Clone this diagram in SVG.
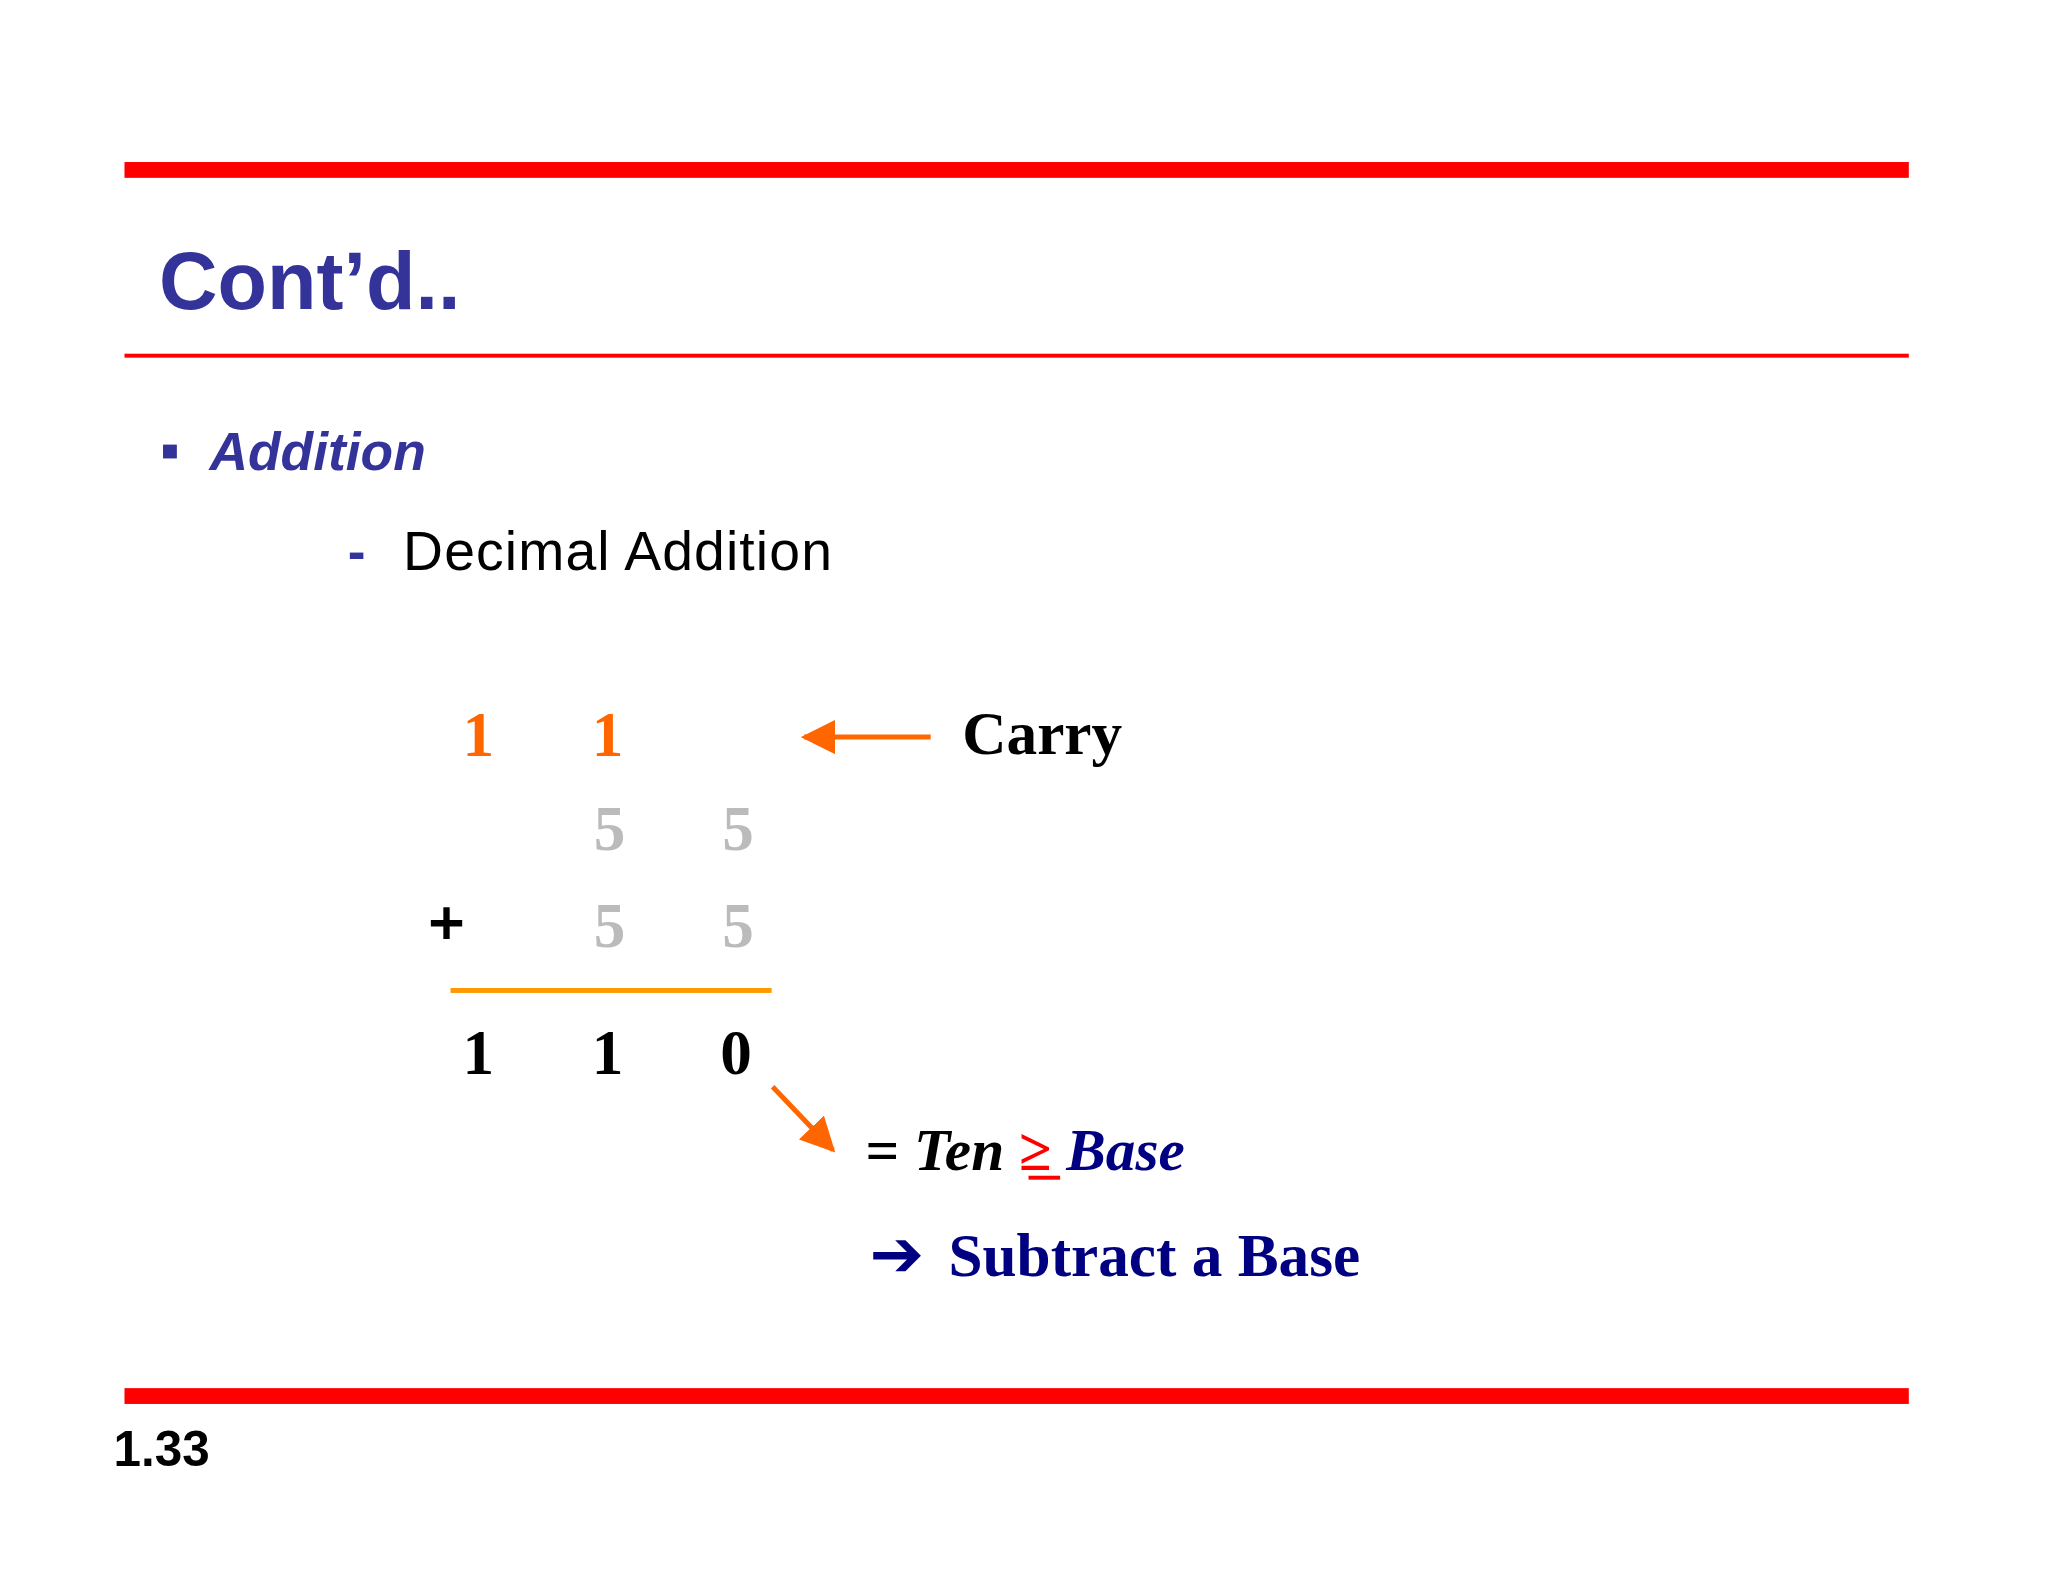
<svg xmlns="http://www.w3.org/2000/svg" width="2048" height="1582" viewBox="0 0 2048 1582">
<style>
.n{font-family:"Liberation Serif",serif;font-weight:bold;font-size:64px;text-anchor:middle}
.o{fill:#FF6600}.g{fill:#BBBBBB}.k{fill:#000}
</style>
<defs>
<marker id="ah" viewBox="0 0 10 10" refX="9" refY="5" markerWidth="7" markerHeight="7" orient="auto"><path d="M0,0 L10,5 L0,10 Z" fill="#FF6600"/></marker>
</defs>
<rect width="2048" height="1582" fill="#fff"/>
<g transform="scale(0.988)">
<rect x="126" y="164" width="1806" height="16" fill="#FF0000"/>
<rect x="126" y="358" width="1806" height="4" fill="#FF0000"/>
<rect x="126" y="1405" width="1806" height="16" fill="#FF0000"/>
<text x="161" y="313" font-family="Liberation Sans,sans-serif" font-weight="bold" font-size="82" fill="#333399">Cont’d..</text>
<rect x="165" y="450" width="14" height="14" fill="#333399"/>
<text x="212" y="476" font-family="Liberation Sans,sans-serif" font-weight="bold" font-style="italic" font-size="54" fill="#333399">Addition</text>
<text x="352" y="577" font-family="Liberation Sans,sans-serif" font-weight="bold" font-size="54" fill="#333399">-</text>
<text x="408" y="577" font-family="Liberation Sans,sans-serif" font-size="56" fill="#000" textLength="434" lengthAdjust="spacing">Decimal Addition</text>
<g id="carry"><text class="n o" x="484" y="765">1</text><text class="n o" x="615" y="765">1</text></g>
<g id="row1"><text class="n g" x="617" y="860">5</text><text class="n g" x="747" y="860">5</text></g>
<g id="row2"><text class="n k" x="452" y="955" font-family="Liberation Sans,sans-serif" font-size="58" stroke="#000" stroke-width="2">+</text><text class="n g" x="617" y="958">5</text><text class="n g" x="747" y="958">5</text></g>
<rect x="456" y="1000" width="325" height="5" fill="#FF9900"/>
<g id="result"><text class="n k" x="484" y="1087">1</text><text class="n k" x="615" y="1087">1</text><text class="n k" x="745" y="1087">0</text></g>
<text x="974" y="763" font-family="Liberation Serif,serif" font-weight="bold" font-size="62">Carry</text>
<g id="connectors" stroke="#FF6600" stroke-width="5" fill="none">
<line x1="942" y1="746" x2="814" y2="746" marker-end="url(#ah)"/>
<line x1="782" y1="1100" x2="843" y2="1164" marker-end="url(#ah)"/>
</g>
<text x="876" y="1184" font-family="Liberation Serif,serif" font-weight="bold" font-size="60"><tspan>= </tspan><tspan font-style="italic">Ten </tspan><tspan fill="#FF0000">≥</tspan><tspan font-style="italic" fill="#000080"> Base</tspan></text>
<rect x="1041" y="1190" width="32" height="4" fill="#FF0000"/>
<text x="880" y="1292" font-family="DejaVu Sans,sans-serif" font-weight="bold" font-size="66" fill="#000080">➔</text>
<text x="960" y="1292" font-family="Liberation Serif,serif" font-weight="bold" font-size="62" fill="#000080">Subtract a Base</text>
<text x="115" y="1484" font-family="Liberation Sans,sans-serif" font-weight="bold" font-size="50">1.33</text>
</g>
</svg>
